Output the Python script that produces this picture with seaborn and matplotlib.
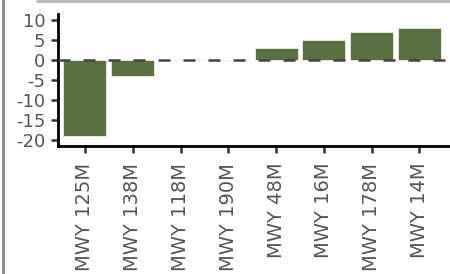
import matplotlib
matplotlib.use("Agg")
import matplotlib.pyplot as plt
import seaborn as sns
import pandas as pd
from matplotlib.lines import Line2D

categories = ["MWY 125M", "MWY 138M", "MWY 118M", "MWY 190M",
              "MWY 48M", "MWY 16M", "MWY 178M", "MWY 14M"]
values = [-19, -4, 0, 0, 3, 5, 7, 8]
y_ticks = [-20, -15, -10, -5, 0, 5, 10]

df = pd.DataFrame({"pathway": categories, "value": values})

sns.set_style("white")
plt.rcParams["font.family"] = ["DejaVu Sans"]
plt.rcParams["axes.unicode_minus"] = False

fig = plt.figure(figsize=(4.5, 2.74), dpi=100)
ax = fig.add_axes([58 / 450, 1 - 146 / 274, 1 - 58 / 450, (146 - 14) / 274])

sns.barplot(data=df, x="pathway", y="value", color="#5a7042", saturation=1,
            width=0.9, edgecolor="#e8ede0", linewidth=0.6, ax=ax, zorder=2)
ax.axhline(0, color="#444444", lw=1.8, ls=(0, (4.8, 5.2)), zorder=3)

ax.set_xlim(-0.565, 7.64)
ax.set_ylim(-21.5, 11.5)
ax.set_yticks(y_ticks)
ax.set_xlabel("")
ax.set_ylabel("")

for s in ["top", "right"]:
    ax.spines[s].set_visible(False)
for s in ["left", "bottom"]:
    ax.spines[s].set_color("black")
    ax.spines[s].set_linewidth(2)

ax.tick_params(axis="both", which="major", bottom=True, left=True, length=5,
               width=1.8, color="#333333", labelcolor="#555555")
ax.tick_params(axis="x", labelsize=14, labelrotation=90, pad=7)
ax.tick_params(axis="y", labelsize=13, pad=4)

# outer frame remnants
fig.add_artist(Line2D([3 / 450, 3 / 450], [0, 1], transform=fig.transFigure,
                      color="#8c8c8c", lw=2.2))
fig.add_artist(Line2D([37 / 450, 1], [1 - 1 / 274, 1 - 1 / 274], transform=fig.transFigure,
                      color="#b4b4b4", lw=2))

fig.savefig("out.png", dpi=100)
